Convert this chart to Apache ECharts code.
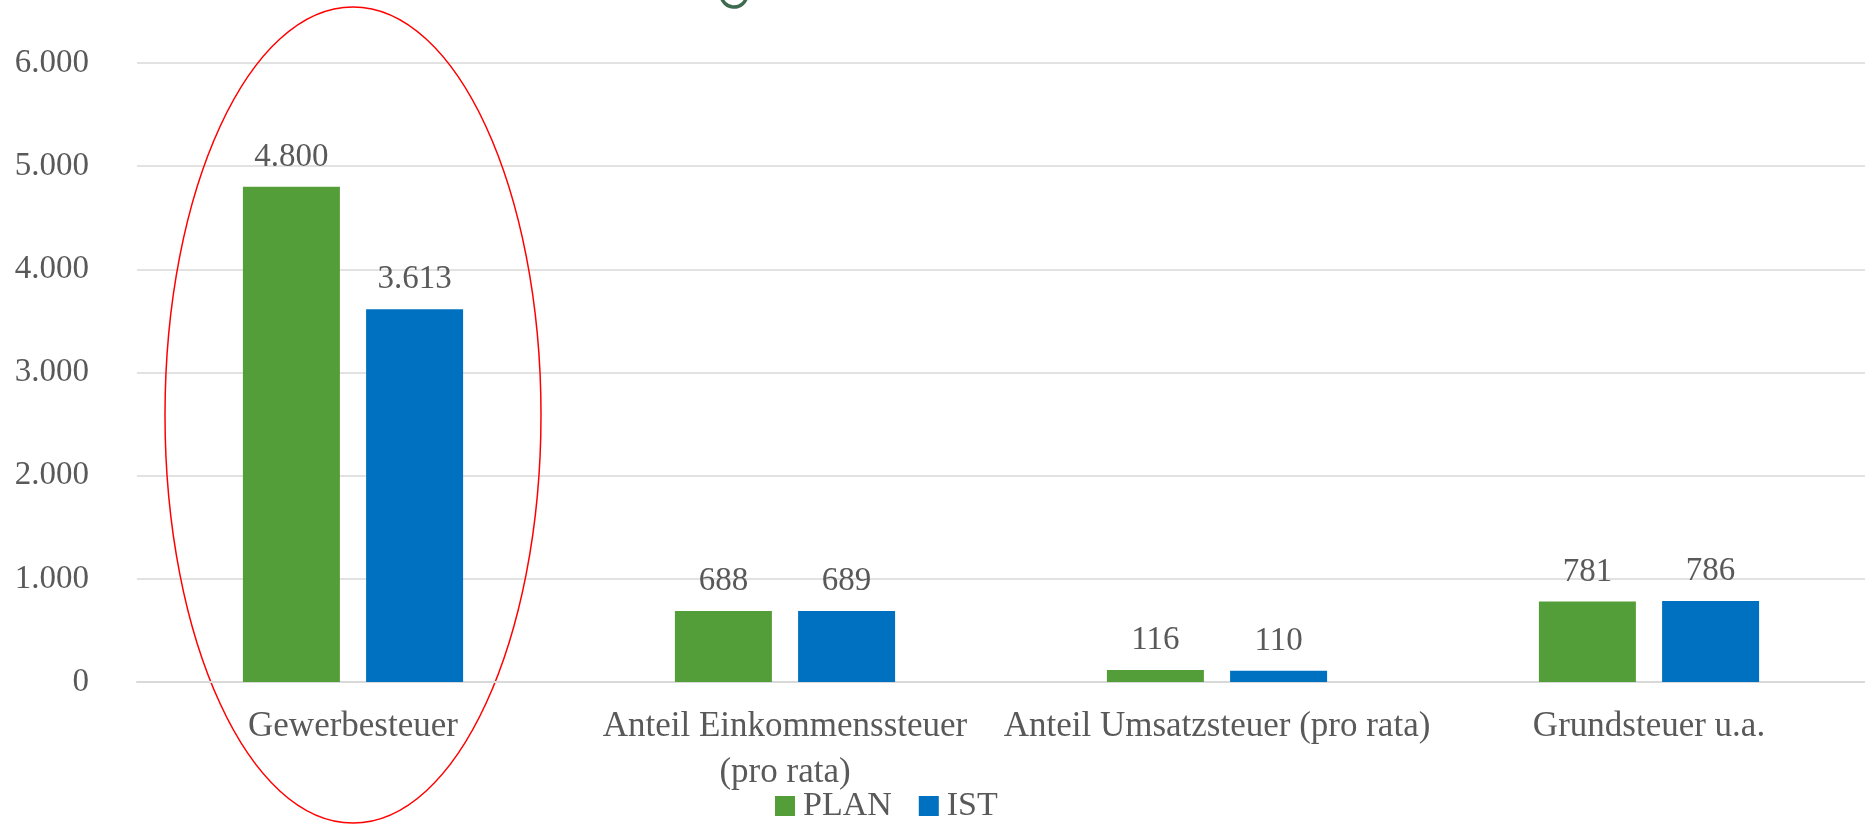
<!DOCTYPE html>
<html><head><meta charset="utf-8">
<script src="https://cdn.jsdelivr.net/npm/echarts@6/dist/echarts.min.js"></script>
<style>html,body{margin:0;padding:0;background:#fff;}#c{width:1865px;height:826px;}</style>
</head><body><div id="c"></div>
<script>
var categories = ['Gewerbesteuer', 'Anteil Einkommenssteuer\n(pro rata)', 'Anteil Umsatzsteuer (pro rata)', 'Grundsteuer u.a.'];
var planValues = [4800, 688, 116, 781];
var istValues = [3613, 689, 110, 786];
var yTicks = [0, 1000, 2000, 3000, 4000, 5000, 6000];

var FONT = 'Liberation Serif';
var TXT = '#595959';
function fmt(v){ return String(v).replace(/\B(?=(\d{3})+(?!\d))/g, '.'); }

var chart = echarts.init(document.getElementById('c'));
var lbl = {show:true, position:'top', distance:13, color:TXT, fontFamily:FONT, fontSize:33,
  formatter:function(p){return fmt(p.value);}};
chart.setOption({
  animation:false,
  grid:{left:137, right:0, top:63, bottom:144, containLabel:false},
  legend:{left:770, top:784, itemWidth:20, itemHeight:20, itemGap:27,
    icon:'rect', textStyle:{color:TXT, fontFamily:FONT, fontSize:34, padding:[0,0,0,3]},
    data:['PLAN','IST']},
  xAxis:{type:'category', data:categories,
    axisLine:{lineStyle:{color:'#d9d9d9', width:2}}, axisTick:{show:false},
    axisLabel:{color:TXT, fontFamily:FONT, fontSize:35, lineHeight:46, margin:22, interval:0}},
  yAxis:{type:'value', min:yTicks[0], max:yTicks[yTicks.length-1], interval:1000,
    axisLine:{show:false}, axisTick:{show:false},
    splitLine:{lineStyle:{color:'#d9d9d9', width:1.5}},
    axisLabel:{color:TXT, fontFamily:FONT, fontSize:33, margin:48, formatter:function(v){return fmt(v);}}},
  series:[
    {name:'PLAN', type:'bar', data:planValues, barWidth:97, barGap:'27%', itemStyle:{color:'#549E39'}, label:lbl},
    {name:'IST', type:'bar', data:istValues, barWidth:97, itemStyle:{color:'#0070C0'}, label:lbl}
  ]
});
var cx = chart.convertToPixel({xAxisIndex:0}, categories[0]);
chart.setOption({graphic:[
  {type:'ellipse', shape:{cx:cx, cy:415, rx:188, ry:408}, style:{fill:'none', stroke:'#FF0000', lineWidth:1.5}, silent:true},
  {type:'arc', shape:{cx:734, cy:-6, r:13, startAngle:0.1, endAngle:Math.PI-0.1}, style:{fill:'none', stroke:'#3E6B50', lineWidth:3.5}, silent:true}
]});
</script></body></html>
